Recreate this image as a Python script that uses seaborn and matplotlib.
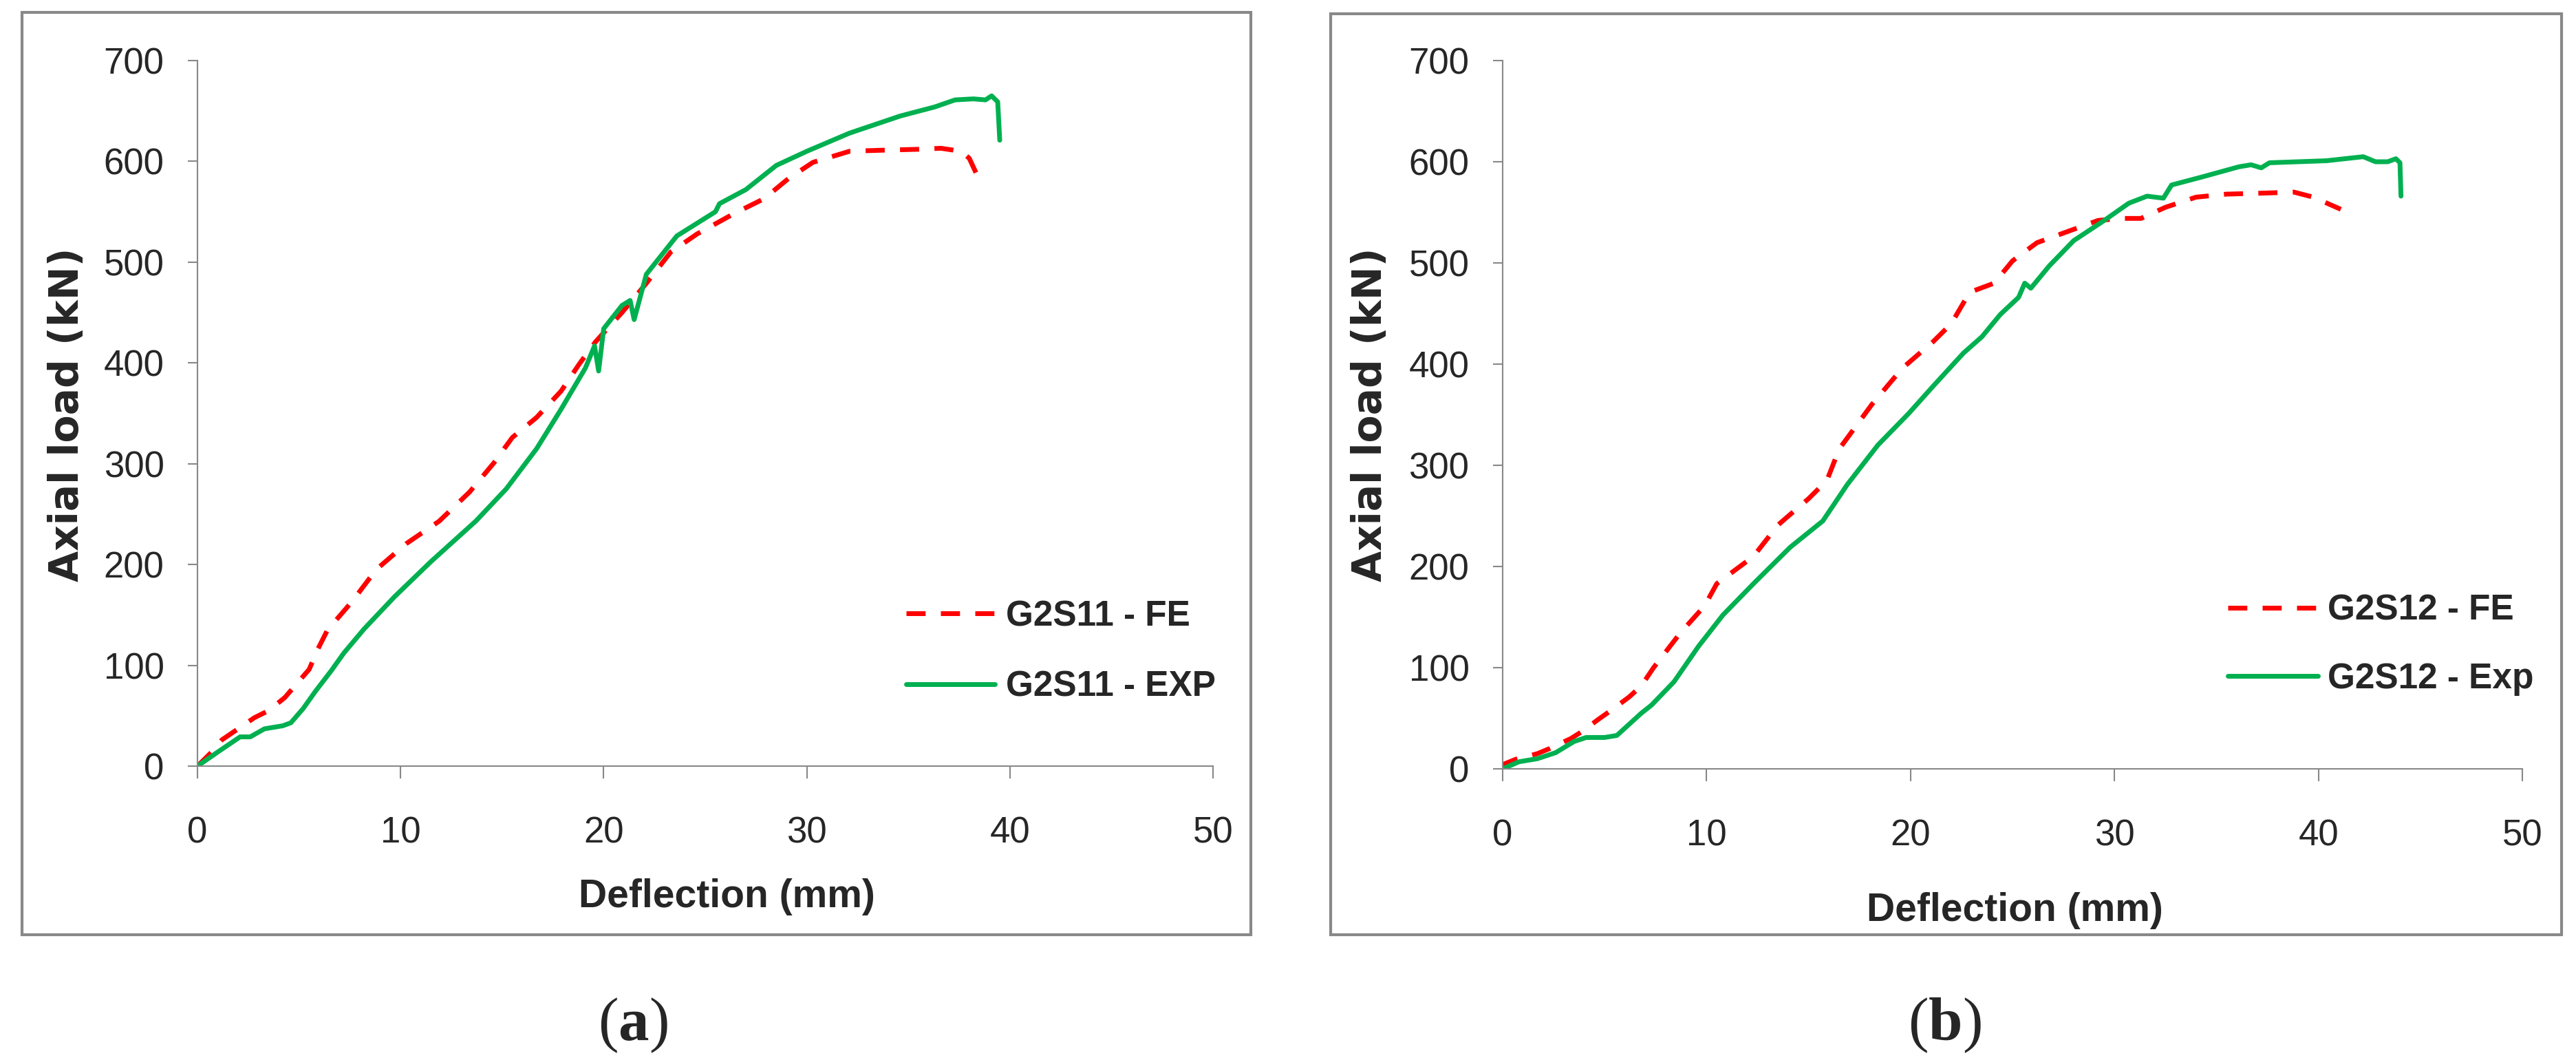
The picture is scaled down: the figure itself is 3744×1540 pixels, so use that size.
import matplotlib
matplotlib.use('Agg')
import matplotlib.pyplot as plt
from matplotlib import font_manager
from matplotlib.patches import Rectangle
import seaborn as sns

# Specimen G2S11: deflection (mm) vs axial load (kN)
g2s11_fe_defl = [0, 0.7, 1.2, 2.0, 2.8, 3.5, 4.3, 4.9, 5.5, 5.9, 6.4, 7.6, 8.8, 10.3,
                 11.9, 13.4, 14.6, 15.5, 16.7, 17.9, 18.8, 19.6, 20.9, 22.1, 23.3,
                 24.6, 26.4, 27.9, 29.1, 30.3, 32.1, 33.6, 35.5, 36.6, 37.6, 38.0,
                 38.3, 38.6]
g2s11_fe_load = [0, 14, 26, 37, 48, 55, 68, 82, 96, 115, 135, 163, 195, 221,
                 243, 272, 301, 326, 346, 372, 399, 421, 450, 479, 510,
                 528, 548, 563, 583, 599, 610, 611, 612, 613, 610, 603,
                 590, 577]

g2s11_exp_defl = [0, 1.0, 2.1, 2.6, 3.3, 4.2, 4.6, 5.2, 5.8, 6.6, 7.2, 8.2, 9.7, 11.5,
                  13.7, 15.2, 16.7, 17.9, 19.1, 19.55, 19.75, 20.0, 20.9, 21.3, 21.5,
                  22.1, 23.6, 25.5, 25.7, 27.0, 28.5, 30.0, 32.1, 34.6, 36.3, 37.3,
                  38.2, 38.8, 39.1, 39.4, 39.5]
g2s11_exp_load = [0, 14, 29, 29, 37, 40, 43, 57, 74, 95, 112, 136, 168, 203,
                  243, 275, 315, 354, 395, 417, 392, 434, 457, 462, 443,
                  488, 526, 550, 558, 572, 596, 610, 628, 645, 654, 661,
                  662, 661, 665, 659, 621]

# Specimen G2S12
g2s12_fe_defl = [0, 0.1, 0.65, 1.7, 2.3, 3.35, 3.9, 4.7, 5.4, 6.2, 6.8, 7.4, 8.7, 9.9,
                 10.5, 11.1, 12.3, 13.5, 15.0, 15.9, 16.5, 18.1, 19.6, 21.1, 22.0,
                 22.9, 24.1, 25.0, 26.2, 27.7, 29.2, 30.4, 31.3, 32.5, 34.0, 35.5,
                 37.3, 38.8, 39.75, 41.1]
g2s12_fe_load = [0, 5, 9.5, 15, 20, 30, 37, 49, 59, 71, 82, 100, 134, 161,
                 183, 192, 210, 241, 267, 285, 316, 360, 396, 422, 440,
                 471, 480, 502, 520, 531, 542, 544, 544, 555, 565, 568,
                 569, 570, 565, 553]

g2s12_exp_defl = [0, 0.8, 1.7, 2.6, 3.5, 4.1, 5.0, 5.6, 6.2, 6.8, 7.3, 8.4, 9.6, 10.8,
                  12.3, 14.1, 15.7, 16.9, 18.4, 19.9, 21.1, 22.6, 23.5, 24.4, 25.3,
                  25.6, 25.9, 26.8, 28.0, 29.5, 30.7, 31.6, 32.4, 32.8, 34.3, 36.1,
                  36.7, 37.2, 37.6, 40.4, 42.2, 42.8, 43.4, 43.8, 44.0, 44.05]
g2s12_exp_load = [0, 7, 10, 16, 27, 31, 31, 33, 44, 55, 63, 86, 121, 152,
                  183, 219, 245, 281, 320, 351, 378, 411, 427, 449, 466,
                  480, 475, 497, 522, 542, 559, 566, 564, 577, 585, 595,
                  597, 594, 599, 601, 605, 600, 600, 603, 599, 566]

x_ticks = [0, 10, 20, 30, 40, 50]
y_ticks = [0, 100, 200, 300, 400, 500, 600, 700]

RED = '#FF0000'
GREEN = '#00B050'
GREY = '#888888'


def main():
    sns.set_style('white')
    # Arial Narrow look-alike when present, plain Liberation Sans otherwise.
    names = {f.name for f in font_manager.fontManager.ttflist}
    narrow = 'Liberation Sans Narrow' if 'Liberation Sans Narrow' in names else 'Liberation Sans'
    plt.rcParams['font.family'] = [narrow, 'DejaVu Sans']
    plt.rcParams['mathtext.fontset'] = 'custom'
    plt.rcParams['mathtext.rm'] = 'Liberation Serif'
    plt.rcParams['mathtext.bf'] = 'Liberation Serif:bold'

    fig = plt.figure(figsize=(37.44, 15.40), dpi=100)

    panels = [
        dict(rect=[0.07666, 0.27727, 0.39423, 0.66558],
             fe=(g2s11_fe_defl, g2s11_fe_load), exp=(g2s11_exp_defl, g2s11_exp_load),
             labels=('G2S11 - FE', 'G2S11 - EXP'), leg=(0.698, 0.236),
             lspace=1.04, hlen=2.5, hpad=0.32,
             xlab=(0.521, -0.185), ylab=(-0.1287, 0.4985),
             frame=(32, 18, 1818, 1358), tag='a', tag_x=0.2457),
        dict(rect=[0.58333, 0.27468, 0.39583, 0.66818],
             fe=(g2s12_fe_defl, g2s12_fe_load), exp=(g2s12_exp_defl, g2s12_exp_load),
             labels=('G2S12 - FE', 'G2S12 - Exp'), leg=(0.711, 0.247),
             lspace=0.98, hlen=2.55, hpad=0.27,
             xlab=(0.502, -0.200), ylab=(-0.1296, 0.50),
             frame=(1934, 20, 3723, 1358), tag='b', tag_x=0.7548),
    ]

    for p in panels:
        # Outer grey frame of each sub-figure.
        x0, y0, x1, y1 = p['frame']
        fig.patches.append(Rectangle((x0 / 3744, 1 - y1 / 1540), (x1 - x0) / 3744,
                                     (y1 - y0) / 1540, transform=fig.transFigure,
                                     fill=False, ec=GREY, lw=3))

        ax = fig.add_axes(p['rect'])
        ax.set_facecolor('none')
        sns.lineplot(x=p['fe'][0], y=p['fe'][1], ax=ax, color=RED, lw=5,
                     linestyle=(0, (4, 3.2)), estimator=None, sort=False,
                     label=p['labels'][0])
        sns.lineplot(x=p['exp'][0], y=p['exp'][1], ax=ax, color=GREEN, lw=5,
                     estimator=None, sort=False, label=p['labels'][1])

        ax.set_xlim(0, 50)
        ax.set_ylim(0, 700)
        ax.set_xticks(x_ticks)
        ax.set_yticks(y_ticks)
        for s in ['top', 'right']:
            ax.spines[s].set_visible(False)
        for s in ['left', 'bottom']:
            ax.spines[s].set_color(GREY)
            ax.spines[s].set_linewidth(1.5)
        ax.tick_params(axis='y', direction='out', length=10, width=1.5, color=GREY,
                       pad=25, labelsize=38, left=True)
        ax.tick_params(axis='x', direction='out', length=13, width=1.5, color=GREY,
                       pad=39, labelsize=38, bottom=True)

        ax.set_xlabel('Deflection (mm)', fontsize=41, fontweight='bold')
        ax.xaxis.label.set_verticalalignment('center')
        ax.xaxis.set_label_coords(*p['xlab'])
        ax.set_ylabel('Axial load (kN)', fontsize=42, fontweight='bold',
                      family=['DejaVu Sans'])
        ax.yaxis.label.set_verticalalignment('center')
        ax.yaxis.set_label_coords(*p['ylab'])

        ax.legend(loc='upper left', bbox_to_anchor=p['leg'], frameon=False,
                  borderpad=0, borderaxespad=0, handlelength=p['hlen'],
                  handletextpad=p['hpad'], labelspacing=p['lspace'],
                  prop={'family': narrow, 'weight': 'bold', 'size': 37})

        fig.text(p['tag_x'], 0.0325, r'($\mathbf{' + p['tag'] + '}$)', ha='center',
                 va='center', fontsize=64, family='Liberation Serif')

    fig.savefig('out.png', dpi=100, facecolor='white')


if __name__ == '__main__':
    main()
